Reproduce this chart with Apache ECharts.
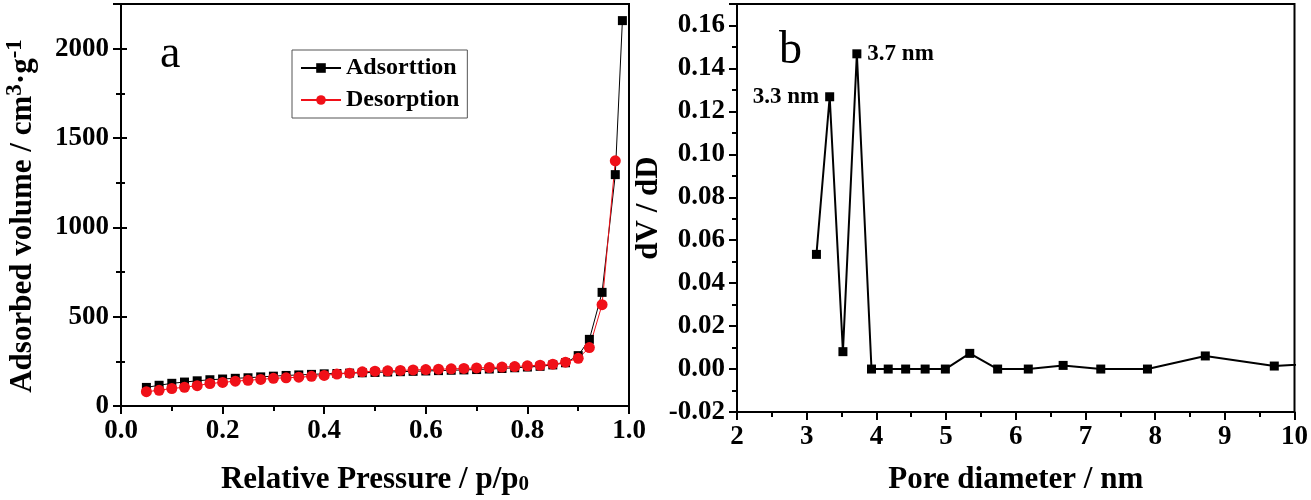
<!DOCTYPE html>
<html>
<head>
<meta charset="utf-8">
<script src="https://cdn.jsdelivr.net/npm/echarts@6/dist/echarts.min.js"></script>
<style>
  html, body { margin:0; padding:0; background:#fff; }
  #chart { width:1311px; height:500px; }
</style>
</head>
<body>
<div id="chart"></div>
<script type="text/javascript">
// adsorption branch (a)
var adsP = [0.05,0.075,0.1,0.125,0.15,0.175,0.2,0.225,0.25,0.275,0.3,0.325,0.35,0.375,0.4,0.425,0.45,0.475,0.5,0.525,0.55,0.575,0.6,0.625,0.65,0.675,0.7,0.725,0.75,0.775,0.8,0.825,0.85,0.875,0.9,0.922,0.947,0.973,0.987];
var adsV = [104,116,127,134,141,147,151,155,158,163,167,171,174,177,180,182,184,186,188,190,192,194,196,198,200,202,204,207,210,214,218,222,230,242,282,373,636,1295,2157];
// desorption branch (a)
var desP = [0.05,0.075,0.1,0.125,0.15,0.175,0.2,0.225,0.25,0.275,0.3,0.325,0.35,0.375,0.4,0.425,0.45,0.475,0.5,0.525,0.55,0.575,0.6,0.625,0.65,0.675,0.7,0.725,0.75,0.775,0.8,0.825,0.85,0.875,0.9,0.922,0.947,0.973];
var desV = [80,88,98,105,114,126,132,139,144,149,155,158,161,166,171,179,184,191,195,197,199,202,204,206,208,210,213,215,218,221,225,228,234,245,267,327,567,1372];
// pore size distribution (b)
var poreD = [3.14,3.33,3.52,3.72,3.93,4.17,4.42,4.70,4.99,5.34,5.74,6.18,6.68,7.22,7.89,8.72,9.71,10.8];
var dVdD = [0.0534,0.1268,0.0081,0.1468,0,0,0,0,0,0.0073,0,0,0.0017,0,0,0.0061,0.0014,0.0036];
var peakNames = {1:'3.3 nm', 3:'3.7 nm'};

var FONT = 'Liberation Serif';
var chart = echarts.init(document.getElementById('chart'));

function pairs(xs, ys){
  var out = [];
  for (var i=0;i<xs.length;i++) out.push([xs[i], ys[i]]);
  return out;
}
var psdData = [];
for (var i=0;i<poreD.length;i++){
  var item = {value:[poreD[i], dVdD[i]]};
  if (peakNames[i]) {
    item.label = {show:true, formatter:peakNames[i], position:(i==1?'left':'right'), distance:6,
      fontFamily:FONT, fontWeight:'bold', fontSize:23, color:'#000'};
  }
  psdData.push(item);
}

function lbl(extra){
  return Object.assign({fontFamily:FONT, fontWeight:'bold', fontSize:27, color:'#000', margin:12}, extra || {});
}
var axLine = {onZero:false, lineStyle:{color:'#000', width:2}};
var tick = {inside:false, length:8, lineStyle:{color:'#000', width:2}};
var minor = {show:true, splitNumber:2, length:5, lineStyle:{color:'#000', width:2}};
var nameStyle = {fontFamily:FONT, fontWeight:'bold', fontSize:31, color:'#000'};

chart.setOption({
  animation:false,
  grid:[
    {left:121, right:682, top:4, bottom:86, show:true, borderColor:'#000', borderWidth:2},
    {left:737, right:16, top:4, bottom:80, show:true, borderColor:'#000', borderWidth:2}
  ],
  legend:{
    data:['Adsorttion','Desorption'],
    orient:'vertical', left:292, top:50,
    itemWidth:40, itemHeight:12, itemGap:8,
    borderColor:'#555', borderWidth:1, padding:[6,8,6,8],
    textStyle:{fontFamily:FONT, fontWeight:'bold', fontSize:24, color:'#000'}
  },
  graphic:[
    {type:'text', left:160, top:32, style:{text:'a', font:'46px "Liberation Serif"', fill:'#000'}},
    {type:'text', left:779, top:28, style:{text:'b', font:'46px "Liberation Serif"', fill:'#000'}}
  ],
  xAxis:[
    {gridIndex:0, type:'value', min:0, max:1, interval:0.2,
      axisLine:axLine, axisTick:tick, minorTick:minor, splitLine:{show:false},
      axisLabel:lbl({formatter:function(v){return v.toFixed(1);}}),
      name:'Relative Pressure / p/p{s|0}', nameLocation:'middle', nameGap:58,
      nameTextStyle:Object.assign({rich:{s:{fontFamily:FONT, fontWeight:'bold', fontSize:21, padding:[10,0,0,0]}}}, nameStyle)},
    {gridIndex:1, type:'value', min:2, max:10, interval:1,
      axisLine:axLine, axisTick:tick, minorTick:minor, splitLine:{show:false},
      axisLabel:lbl(),
      name:'Pore diameter / nm', nameLocation:'middle', nameGap:52, nameTextStyle:nameStyle}
  ],
  yAxis:[
    {gridIndex:0, type:'value', min:0, max:2250, interval:500,
      axisLine:axLine, axisTick:tick, minorTick:minor, splitLine:{show:false},
      axisLabel:lbl({showMaxLabel:false, formatter:function(v){return String(v);}}),
      name:'Adsorbed volume / cm{u|3}·g{u|-1}', nameLocation:'middle', nameGap:80,
      nameTextStyle:Object.assign({padding:[0,22,0,0],
        rich:{u:{fontFamily:FONT, fontWeight:'bold', fontSize:23, padding:[0,0,14,0]}}}, nameStyle)},
    {gridIndex:1, type:'value', min:-0.02, max:0.17, interval:0.02,
      axisLine:axLine, axisTick:tick, minorTick:minor, splitLine:{show:false},
      axisLabel:lbl({showMaxLabel:false, formatter:function(v){return v.toFixed(2);}}),
      name:'dV / dD', nameLocation:'middle', nameGap:68, nameTextStyle:nameStyle},
    {gridIndex:0, type:'value', position:'right', min:0, max:2250, interval:500,
      axisLine:{show:false}, axisTick:{inside:false, length:6, lineStyle:{color:'#000', width:2}},
      minorTick:{show:true, splitNumber:2, length:4, lineStyle:{color:'#000', width:2}},
      axisLabel:{show:false}, splitLine:{show:false}}
  ],
  series:[
    {name:'Adsorttion', type:'line', xAxisIndex:0, yAxisIndex:0, data:pairs(adsP, adsV),
      symbol:'rect', symbolSize:9, itemStyle:{color:'#000'}, lineStyle:{color:'#000', width:1}},
    {name:'Desorption', type:'line', xAxisIndex:0, yAxisIndex:0, data:pairs(desP, desV),
      symbol:'circle', symbolSize:11, itemStyle:{color:'#f01018'}, lineStyle:{color:'#f01018', width:1}},
    {name:'PSD', type:'line', xAxisIndex:1, yAxisIndex:1, data:psdData, clip:true,
      symbol:'rect', symbolSize:9, itemStyle:{color:'#000'}, lineStyle:{color:'#000', width:2}}
  ]
});
</script>
</body>
</html>
